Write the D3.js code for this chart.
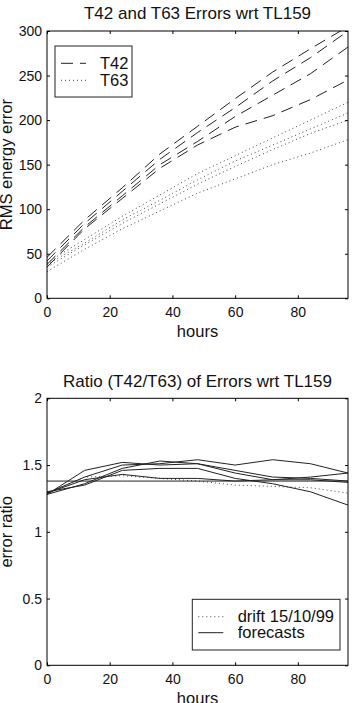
<!DOCTYPE html>
<html>
<head>
<meta charset="utf-8">
<script src="https://cdn.jsdelivr.net/npm/d3@7"></script>
<style>
  body { margin: 0; background: #fff; }
  svg { display: block; font-family: "Liberation Sans", Arial, sans-serif; }
</style>
</head>
<body>
<svg id="chart" width="353" height="703"></svg>
<script>
// forecast hours (12h steps)
const hours = [0, 12, 24, 36, 48, 60, 72, 84, 96];

// RMS energy error of each T42 run wrt TL159
const t42Errors = [
  [46, 88, 124, 162, 193, 224, 254, 280, 305],
  [42, 84, 120, 156, 186, 214, 244, 270, 300],
  [38, 80, 115, 150, 176, 204, 228, 252, 282],
  [35, 78, 112, 146, 172, 192, 205, 223, 245]
];

// RMS energy error of each T63 run wrt TL159
const t63Errors = [
  [40, 66, 92, 116, 140, 160, 180, 200, 220],
  [38, 62, 88, 110, 133, 154, 172, 190, 208],
  [35, 60, 84, 106, 128, 148, 167, 185, 200],
  [30, 55, 78, 98, 118, 134, 150, 163, 178]
];

// ratio T42/T63
const ratioDrift = [1.28, 1.41, 1.42, 1.40, 1.38, 1.35, 1.34, 1.33, 1.29];
const ratioForecasts = [
  [1.29, 1.41, 1.50, 1.51, 1.54, 1.50, 1.54, 1.51, 1.44],
  [1.28, 1.46, 1.52, 1.50, 1.51, 1.46, 1.41, 1.40, 1.38],
  [1.28, 1.36, 1.475, 1.53, 1.51, 1.44, 1.39, 1.39, 1.37],
  [1.30, 1.35, 1.46, 1.475, 1.475, 1.40, 1.36, 1.30, 1.20],
  [1.29, 1.39, 1.43, 1.40, 1.40, 1.38, 1.39, 1.41, 1.44],
  [1.38, 1.38, 1.38, 1.38, 1.38, 1.38, 1.38, 1.38, 1.38]
];

const hourTicks = [0, 20, 40, 60, 80];
const errorTicks = [0, 50, 100, 150, 200, 250, 300];
const ratioTicks = [0, 0.5, 1, 1.5, 2];

const svg = d3.select("#chart");
const left = 47, right = 348;

const x = d3.scaleLinear().domain([0, 96]).range([left, right]);

function drawPanel(opt) {
  const y = d3.scaleLinear().domain(opt.yDomain).range([opt.bottom, opt.top]);
  const g = svg.append("g");
  const clipId = "clip" + opt.id;

  g.append("clipPath").attr("id", clipId)
    .append("rect")
    .attr("x", left).attr("y", opt.top)
    .attr("width", right - left).attr("height", opt.bottom - opt.top);

  // inward ticks on all four sides
  const axes = [
    [d3.axisBottom(x).tickValues(hourTicks).tickSize(-3).tickPadding(8.5), `translate(0,${opt.bottom})`],
    [d3.axisTop(x).tickValues(hourTicks).tickSize(-3).tickFormat(""), `translate(0,${opt.top})`],
    [d3.axisLeft(y).tickValues(opt.yTicks).tickSize(-3).tickPadding(5).tickFormat(opt.fmt), `translate(${left},0)`],
    [d3.axisRight(y).tickValues(opt.yTicks).tickSize(-3).tickFormat(""), `translate(${right},0)`]
  ];
  axes.forEach(a => {
    const ax = g.append("g").attr("transform", a[1]).call(a[0]);
    ax.select(".domain").remove();
    ax.selectAll("line").attr("stroke", "#000");
    ax.selectAll("text").attr("fill", "#111").style("font-size", "14px");
  });

  const line = d3.line().x((d, i) => x(hours[i])).y(d => y(d));

  opt.series.forEach(s => {
    g.append("g").attr("clip-path", `url(#${clipId})`)
      .selectAll("path")
      .data(s.data)
      .enter()
      .append("path")
      .attr("d", line)
      .attr("fill", "none")
      .attr("stroke", s.color)
      .attr("stroke-width", s.width)
      .attr("stroke-dasharray", s.dash);
  });

  g.append("rect")
    .attr("x", left).attr("y", opt.top)
    .attr("width", right - left).attr("height", opt.bottom - opt.top)
    .attr("fill", "none").attr("stroke", "#000").attr("stroke-width", 1);

  g.append("text")
    .attr("x", (left + right) / 2).attr("y", opt.top - 11.7)
    .attr("text-anchor", "middle").style("font-size", "17px").attr("fill", "#111")
    .text(opt.title);

  g.append("text")
    .attr("x", (left + right) / 2).attr("y", opt.bottom + 38.4)
    .attr("text-anchor", "middle").style("font-size", "16.5px").attr("fill", "#111")
    .text("hours");

  g.append("text")
    .attr("transform", `translate(12,${(opt.top + opt.bottom) / 2}) rotate(-90)`)
    .attr("text-anchor", "middle").style("font-size", "16.5px").attr("fill", "#111")
    .text(opt.ylabel);

  // legend
  const lg = opt.legend;
  g.append("rect")
    .attr("x", lg.x).attr("y", lg.y).attr("width", lg.w).attr("height", lg.h)
    .attr("fill", "#fff").attr("stroke", "#222").attr("stroke-width", 1);
  lg.items.forEach((it, i) => {
    const cy = lg.y + lg.first + i * lg.step;
    g.append("line")
      .attr("x1", lg.x + 6).attr("x2", lg.x + 31)
      .attr("y1", cy).attr("y2", cy)
      .attr("stroke", it.s.color).attr("stroke-width", it.s.width)
      .attr("stroke-dasharray", it.s.dash);
    g.append("text")
      .attr("x", lg.x + lg.tx).attr("y", cy + 5.6)
      .style("font-size", "16.5px").attr("fill", "#111")
      .text(it.label);
  });
}

const dashStyle = { color: "#222", width: 1, dash: "12,7" };
const dotStyle = { color: "#444", width: 1, dash: "1,3" };
const solidStyle = { color: "#222", width: 1, dash: null };

drawPanel({
  id: 1, top: 31, bottom: 298.3,
  yDomain: [0, 300], yTicks: errorTicks, fmt: d3.format("d"),
  title: "T42 and T63 Errors wrt TL159",
  ylabel: "RMS energy error",
  series: [
    Object.assign({ data: t42Errors }, dashStyle),
    Object.assign({ data: t63Errors }, dotStyle)
  ],
  legend: {
    x: 55, y: 46, w: 77, h: 51, first: 17.3, step: 17, tx: 45,
    items: [{ label: "T42", s: dashStyle }, { label: "T63", s: dotStyle }]
  }
});

drawPanel({
  id: 2, top: 398.3, bottom: 665.3,
  yDomain: [0, 2], yTicks: ratioTicks, fmt: d => d3.format("")(d),
  title: "Ratio (T42/T63) of Errors wrt TL159",
  ylabel: "error ratio",
  series: [
    Object.assign({ data: [ratioDrift] }, dotStyle),
    Object.assign({ data: ratioForecasts }, solidStyle)
  ],
  legend: {
    x: 192.3, y: 599.3, w: 147.7, h: 50.7, first: 17.4, step: 16, tx: 45.4,
    items: [{ label: "drift 15/10/99", s: dotStyle }, { label: "forecasts", s: solidStyle }]
  }
});
</script>
</body>
</html>
